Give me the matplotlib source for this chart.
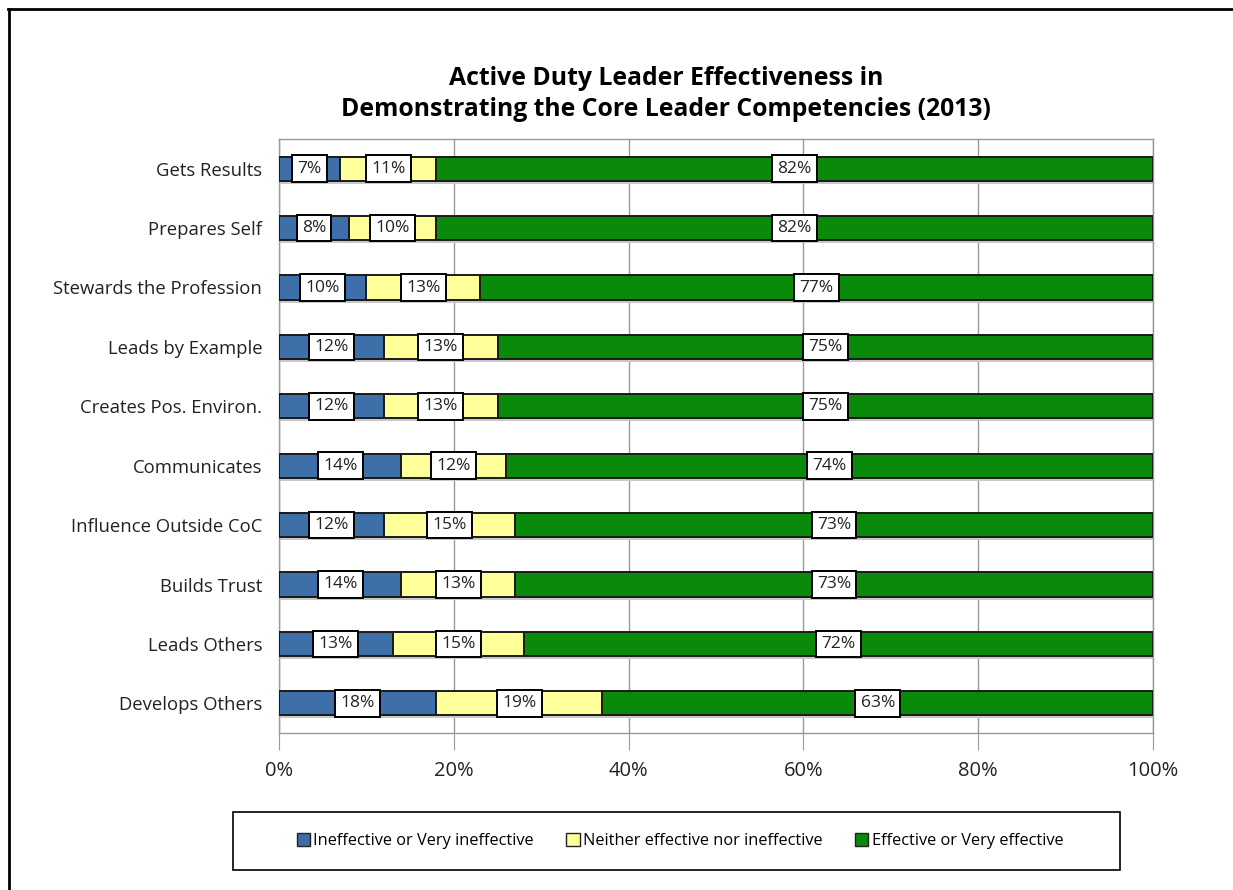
import matplotlib
matplotlib.use("Agg")
import matplotlib.pyplot as plt
from matplotlib.patches import Rectangle, Patch
from matplotlib.lines import Line2D
import numpy as np

# data (top to bottom)
categories = ["Gets Results", "Prepares Self", "Stewards the Profession",
              "Leads by Example", "Creates Pos. Environ.", "Communicates",
              "Influence Outside CoC", "Builds Trust", "Leads Others",
              "Develops Others"]
ineffective = [7, 8, 10, 12, 12, 14, 12, 14, 13, 18]
neither = [11, 10, 13, 13, 13, 12, 15, 13, 15, 19]
effective = [82, 82, 77, 75, 75, 74, 73, 73, 72, 63]

series_names = ["Ineffective or Very ineffective",
                "Neither effective nor ineffective",
                "Effective or Very effective"]
colors = ["#3f6fa8", "#ffff99", "#0a8a0a"]

plt.rcParams["font.family"] = ["Open Sans", "DejaVu Sans"]

W, H = 1233, 890
fig = plt.figure(figsize=(W / 100, H / 100), dpi=100)

# outer frame (top and left only)
fig.add_artist(Line2D([8 / W, 1], [1 - 9 / H, 1 - 9 / H], color="black", lw=2))
fig.add_artist(Line2D([9 / W, 9 / W], [0, 1 - 9 / H], color="black", lw=2))

ax = fig.add_axes([279 / W, 1 - 733 / H, (1153 - 279) / W, (733 - 139) / H])

y = np.arange(len(categories))
left = np.zeros(len(categories))
bar_h = 0.41
for vals, col in zip([ineffective, neither, effective], colors):
    vals = np.array(vals, dtype=float)
    # soft shadow underneath
    ax.barh(y + 0.05, vals, left=left, height=bar_h, color="#c8c8c8",
            edgecolor="none", zorder=2)
    ax.barh(y, vals, left=left, height=bar_h, color=col,
            edgecolor="#1a1a1a", linewidth=1.4, zorder=3)
    for yi, l, v in zip(y, left, vals):
        ax.text(l + v / 2, yi, f"{int(v)}%", ha="center", va="center",
                fontsize=12.5, color="#222222", zorder=5,
                bbox=dict(boxstyle="square,pad=0.3", fc="white",
                          ec="black", lw=1.4))
    left = left + vals

ax.set_xlim(0, 100)
ax.set_ylim(len(categories) - 0.5, -0.5)
ax.set_yticks(y)
ax.set_yticklabels(categories, fontsize=13.3, color="#222222")
ax.set_xticks(np.arange(0, 101, 20))
ax.set_xticklabels([f"{v}%" for v in range(0, 101, 20)], fontsize=14.5,
                   color="#222222")
ax.tick_params(axis="y", length=0, pad=12)
ax.tick_params(axis="x", length=12, color="#999999", pad=8, direction="out")
ax.grid(axis="x", color="#999999", lw=1, zorder=0)
for side in ["top", "bottom", "left", "right"]:
    ax.spines[side].set_color("#999999")
    ax.spines[side].set_linewidth(1)

fig.text(666 / W, 1 - 94 / H,
         "Active Duty Leader Effectiveness in\nDemonstrating the Core Leader Competencies (2013)",
         ha="center", va="center", fontsize=17.8, fontweight="bold",
         linespacing=1.32, color="black")

# legend box
fig.add_artist(Rectangle((233 / W, 1 - 870 / H), (1120 - 233) / W, (870 - 812) / H,
                         transform=fig.transFigure, fill=False,
                         ec="black", lw=1.2))
handles = [Patch(facecolor=c, edgecolor="#222222", label=n)
           for c, n in zip(colors, series_names)]
fig.legend(handles=handles, loc="center", ncol=3, frameon=False,
           bbox_to_anchor=(680 / W, 1 - 841 / H), fontsize=11.8,
           handlelength=0.8, handleheight=0.8, handletextpad=0.2,
           columnspacing=2.0)

fig.savefig("out.png", dpi=100)
